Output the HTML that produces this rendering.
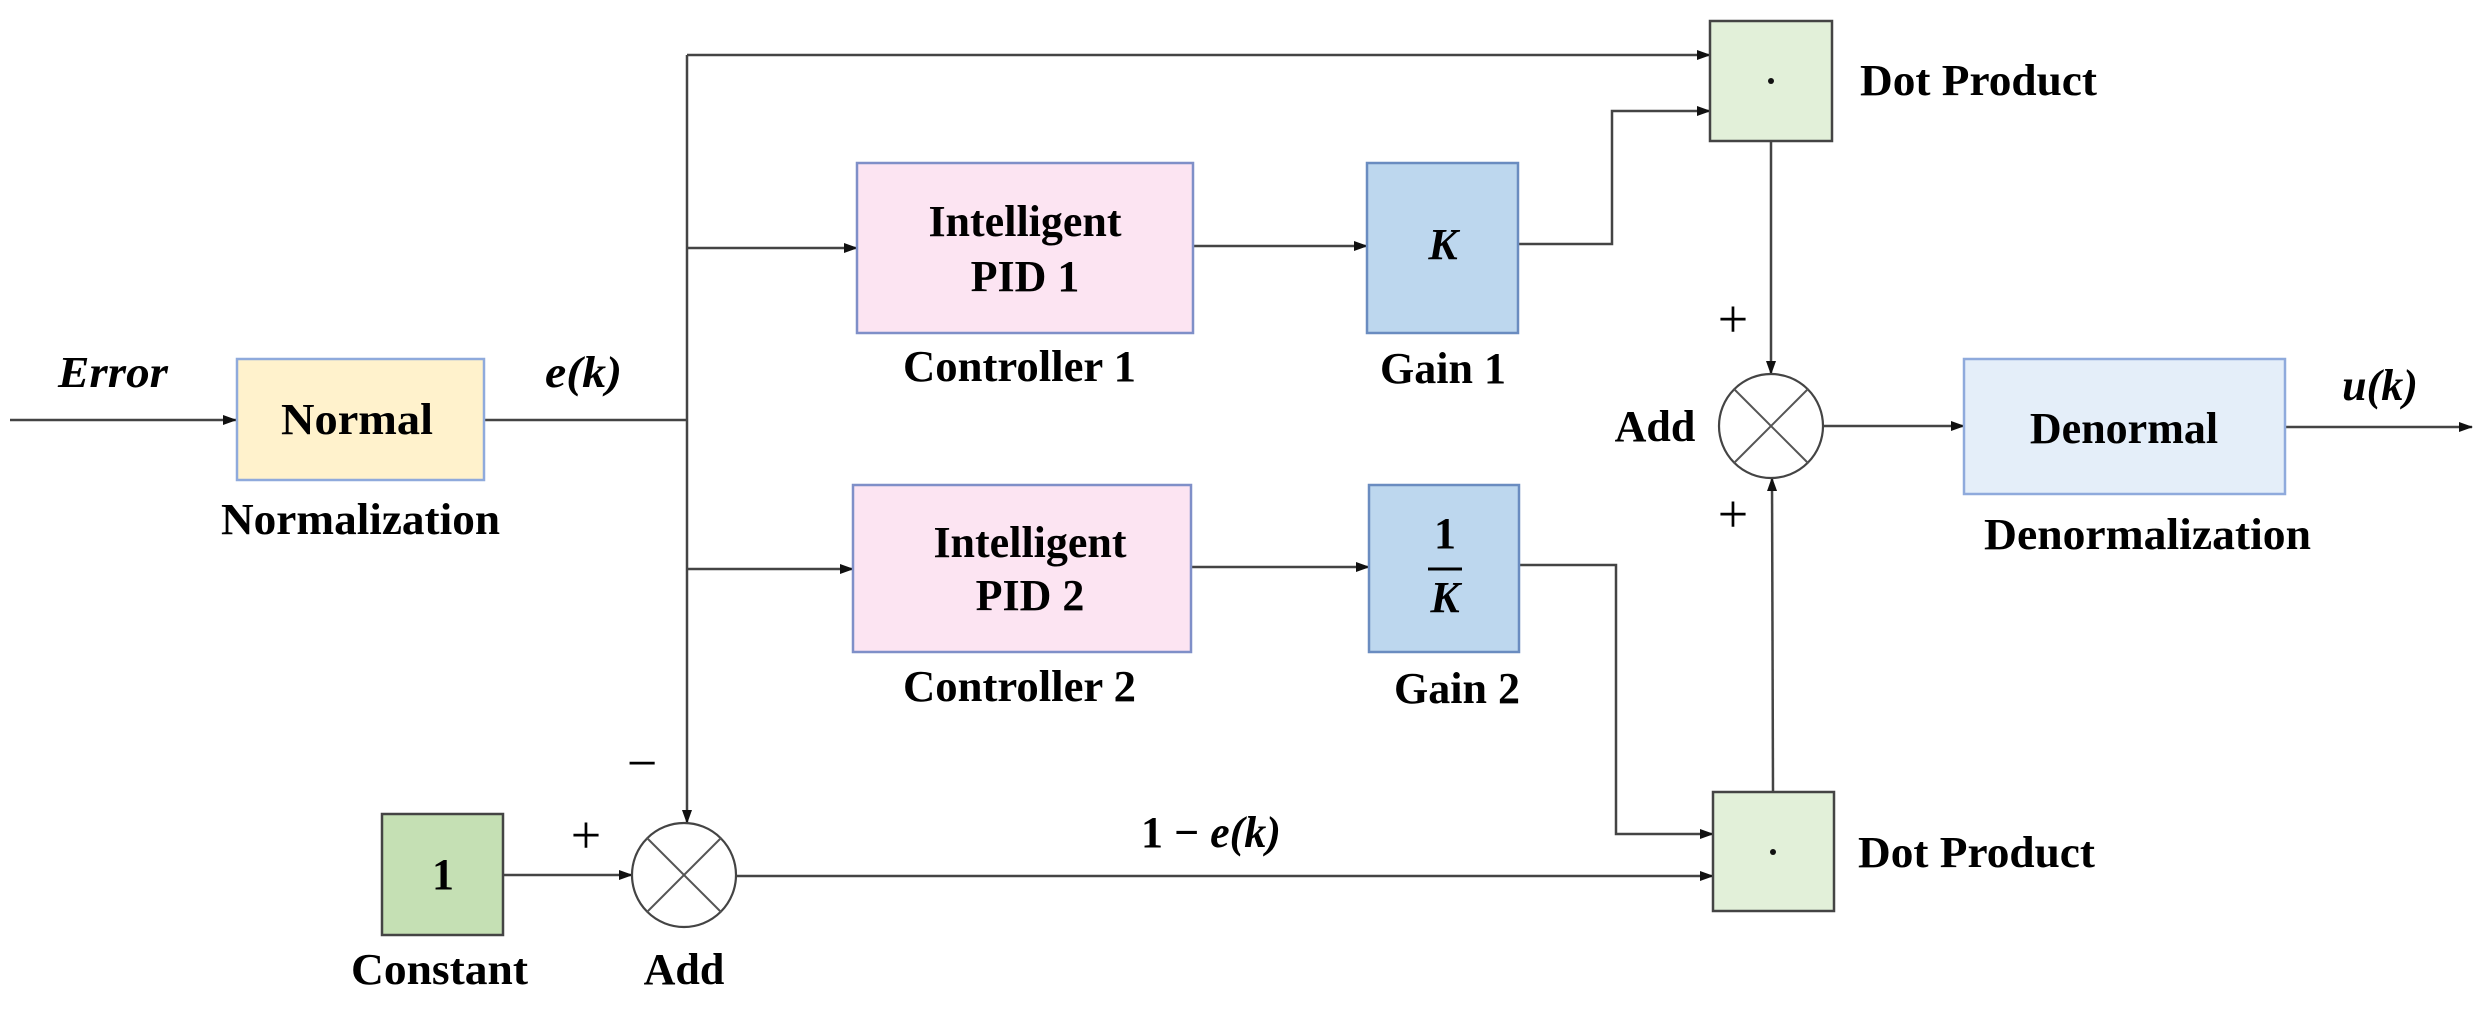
<!DOCTYPE html>
<html><head><meta charset="utf-8"><style>
html,body{margin:0;padding:0;background:#fff;}
svg{display:block;}
text{font-family:"Liberation Serif",serif;font-weight:bold;fill:#000;}
</style></head><body>
<svg width="2488" height="1011" viewBox="0 0 2488 1011" xmlns="http://www.w3.org/2000/svg">
<defs>
<marker id="a" markerWidth="14" markerHeight="12" refX="13" refY="6" orient="auto" markerUnits="userSpaceOnUse">
<path d="M0,1 L14,6 L0,11 Z" fill="#111"/></marker>
</defs>
<g stroke="#444" stroke-width="2.5" fill="none">
<line x1="10" y1="420" x2="236" y2="420" marker-end="url(#a)"/>
<line x1="485" y1="420" x2="688" y2="420"/>
<line x1="687" y1="55" x2="687" y2="823" marker-end="url(#a)"/>
<line x1="687" y1="55" x2="1710" y2="55" marker-end="url(#a)"/>
<line x1="687" y1="248" x2="857" y2="248" marker-end="url(#a)"/>
<line x1="687" y1="569" x2="853" y2="569" marker-end="url(#a)"/>
<line x1="1193" y1="246" x2="1367" y2="246" marker-end="url(#a)"/>
<line x1="1191" y1="567" x2="1369" y2="567" marker-end="url(#a)"/>
<polyline points="1518,244 1612,244 1612,111 1710,111" marker-end="url(#a)"/>
<polyline points="1519,565 1616,565 1616,834 1713,834" marker-end="url(#a)"/>
<line x1="503" y1="875" x2="632" y2="875" marker-end="url(#a)"/>
<line x1="736" y1="876" x2="1713" y2="876" marker-end="url(#a)"/>
<line x1="1771" y1="141" x2="1771" y2="374" marker-end="url(#a)"/>
<line x1="1773" y1="792" x2="1772" y2="478" marker-end="url(#a)"/>
<line x1="1823" y1="426" x2="1964" y2="426" marker-end="url(#a)"/>
<line x1="2285" y1="427" x2="2472" y2="427" marker-end="url(#a)"/>
</g>
<rect x="237" y="359" width="247" height="121" fill="#fff2cc" stroke="#8faadc" stroke-width="2.5"/>
<rect x="857" y="163" width="336" height="170" fill="#fce4f2" stroke="#7f8fc8" stroke-width="2.5"/>
<rect x="853" y="485" width="338" height="167" fill="#fce4f2" stroke="#7f8fc8" stroke-width="2.5"/>
<rect x="1367" y="163" width="151" height="170" fill="#bdd7ee" stroke="#6a8cc0" stroke-width="2.5"/>
<rect x="1369" y="485" width="150" height="167" fill="#bdd7ee" stroke="#6a8cc0" stroke-width="2.5"/>
<rect x="1710" y="21" width="122" height="120" fill="#e2f0d9" stroke="#444" stroke-width="2.5"/>
<rect x="1713" y="792" width="121" height="119" fill="#e2f0d9" stroke="#444" stroke-width="2.5"/>
<rect x="382" y="814" width="121" height="121" fill="#c5e0b4" stroke="#444" stroke-width="2.5"/>
<rect x="1964" y="359" width="321" height="135" fill="#e4eef9" stroke="#8faadc" stroke-width="2.5"/>
<g stroke="#444" stroke-width="2.2" fill="#fff">
<circle cx="684" cy="875" r="52"/>
<circle cx="1771" cy="426" r="52"/>
</g>
<g stroke="#555" stroke-width="2">
<line x1="647" y1="838" x2="721" y2="912"/><line x1="721" y1="838" x2="647" y2="912"/>
<line x1="1734" y1="389" x2="1808" y2="463"/><line x1="1808" y1="389" x2="1734" y2="463"/>
</g>
<circle cx="1771" cy="81" r="3" fill="#111"/>
<circle cx="1773" cy="852" r="3" fill="#111"/>
<g font-size="44">
<text x="58" y="387" font-style="italic" textLength="110" lengthAdjust="spacingAndGlyphs">Error</text>
<text x="545" y="387" font-style="italic" textLength="77" lengthAdjust="spacingAndGlyphs">e(k)</text>
<text x="281" y="434" textLength="152" lengthAdjust="spacingAndGlyphs">Normal</text>
<text x="221" y="534" textLength="279" lengthAdjust="spacingAndGlyphs">Normalization</text>
<text x="1025" y="236" text-anchor="middle">Intelligent</text>
<text x="1025" y="291" text-anchor="middle">PID 1</text>
<text x="903" y="381" textLength="233" lengthAdjust="spacingAndGlyphs">Controller 1</text>
<text x="1030" y="557" text-anchor="middle">Intelligent</text>
<text x="1030" y="610" text-anchor="middle">PID 2</text>
<text x="903" y="701" textLength="233" lengthAdjust="spacingAndGlyphs">Controller 2</text>
<text x="1443" y="259" text-anchor="middle" font-style="italic">K</text>
<text x="1443" y="383" text-anchor="middle">Gain 1</text>
<text x="1445" y="548" text-anchor="middle">1</text>
<text x="1445" y="612" text-anchor="middle" font-style="italic">K</text>
<text x="1457" y="703" text-anchor="middle">Gain 2</text>
<text x="1860" y="95" textLength="237" lengthAdjust="spacingAndGlyphs">Dot Product</text>
<text x="1858" y="867" textLength="237" lengthAdjust="spacingAndGlyphs">Dot Product</text>
<text x="1655" y="441" text-anchor="middle">Add</text>
<text x="2124" y="443" text-anchor="middle">Denormal</text>
<text x="1984" y="549" textLength="327" lengthAdjust="spacingAndGlyphs">Denormalization</text>
<text x="2380" y="400" text-anchor="middle" font-style="italic">u(k)</text>
<text x="443" y="889" text-anchor="middle">1</text>
<text x="351" y="984" textLength="177" lengthAdjust="spacingAndGlyphs">Constant</text>
<text x="684" y="984" text-anchor="middle">Add</text>
<text x="1141" y="847">1 − <tspan font-style="italic">e(k)</tspan></text>
</g>
<line x1="1428" y1="569" x2="1462" y2="569" stroke="#000" stroke-width="3"/>
<g font-size="54">
<text x="1733" y="337" text-anchor="middle" style="font-weight:normal">+</text>
<text x="1733" y="532" text-anchor="middle" style="font-weight:normal">+</text>
<text x="586" y="853" text-anchor="middle" style="font-weight:normal">+</text>
<text x="642" y="781" text-anchor="middle" style="font-weight:normal">−</text>
</g>
</svg>
</body></html>
